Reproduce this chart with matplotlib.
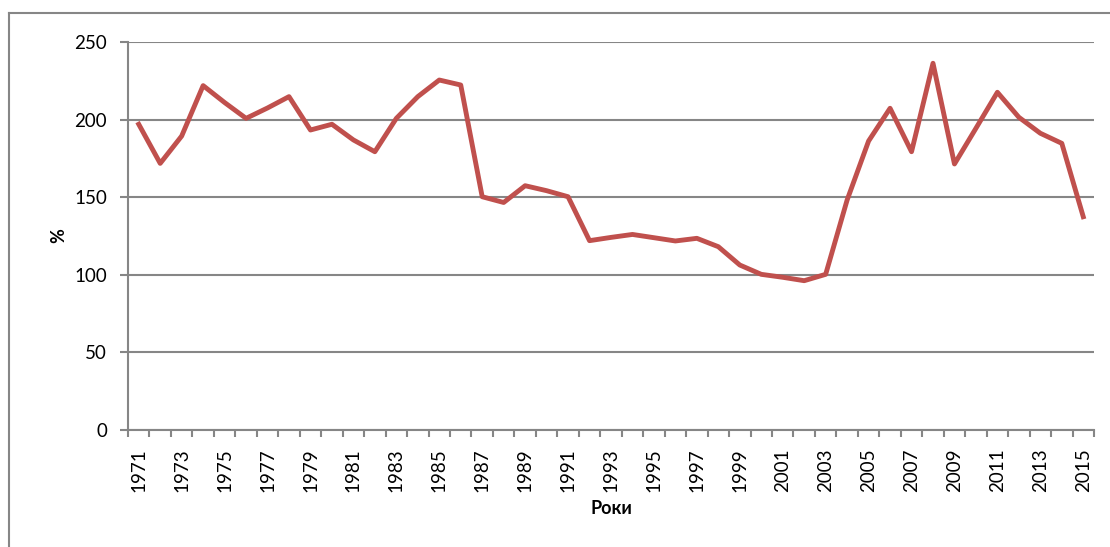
import numpy as np
import matplotlib.pyplot as plt
from matplotlib.lines import Line2D

years = list(range(1971, 2016))
values = [197.0, 171.8, 189.4, 221.9, 211.0, 200.8, 207.5, 214.8, 193.3, 197.0,
          186.9, 179.3, 200.8, 214.8, 225.5, 222.3, 150.3, 146.6, 157.4, 154.2,
          150.3, 122.0, 124.1, 126.0, 123.9, 121.8, 123.5, 118.1, 106.3, 100.3,
          98.4, 96.2, 100.3, 148.2, 186.2, 207.3, 179.3, 236.3, 171.4, 194.4,
          217.6, 201.5, 191.2, 184.7, 137.4]
y_ticks = [0, 50, 100, 150, 200, 250]

plt.rcParams['font.family'] = ['Lato', 'DejaVu Sans']
grey = '#868686'

fig = plt.figure(figsize=(11.10, 5.47), dpi=100)
ax = fig.add_axes([128 / 1110, (547 - 430) / 547, 966 / 1110, 388 / 547])

x = np.arange(len(years))
ax.plot(x, values, color='#C0504D', lw=3.5, solid_joinstyle='round', zorder=3)

ax.set_xlim(-0.5, len(years) - 0.5)
ax.set_ylim(0, 250)
ax.set_yticks(y_ticks)
ax.yaxis.grid(True, color=grey, lw=1.5)
ax.tick_params(axis='y', length=6, width=1.5, color=grey, pad=9, labelsize=13.5)

# labels every second year, tick marks at category boundaries
ax.set_xticks(x[::2])
ax.set_xticklabels([str(y) for y in years[::2]], rotation=90)
ax.set_xticks(np.arange(len(years) + 1) - 0.5, minor=True)
ax.tick_params(axis='x', which='major', length=0, pad=13, labelsize=13.5)
ax.tick_params(axis='x', which='minor', length=5, width=1.5, color=grey)

for s in ['top', 'right']:
    ax.spines[s].set_visible(False)
for s in ['left', 'bottom']:
    ax.spines[s].set_color(grey)
    ax.spines[s].set_linewidth(1.5)

ax.set_xlabel('Роки', fontweight='bold', fontsize=13, labelpad=6)
ax.set_ylabel('%', fontweight='bold', fontsize=13, labelpad=5)

# outer chart frame (cropped)
fig.add_artist(Line2D([8.5 / 1110, 8.5 / 1110], [0, 1 - 12.5 / 547],
                      transform=fig.transFigure, color=grey, lw=1.5))
fig.add_artist(Line2D([8.5 / 1110, 1], [1 - 12.5 / 547, 1 - 12.5 / 547],
                      transform=fig.transFigure, color=grey, lw=1.5))

fig.savefig('out.png', dpi=100)
